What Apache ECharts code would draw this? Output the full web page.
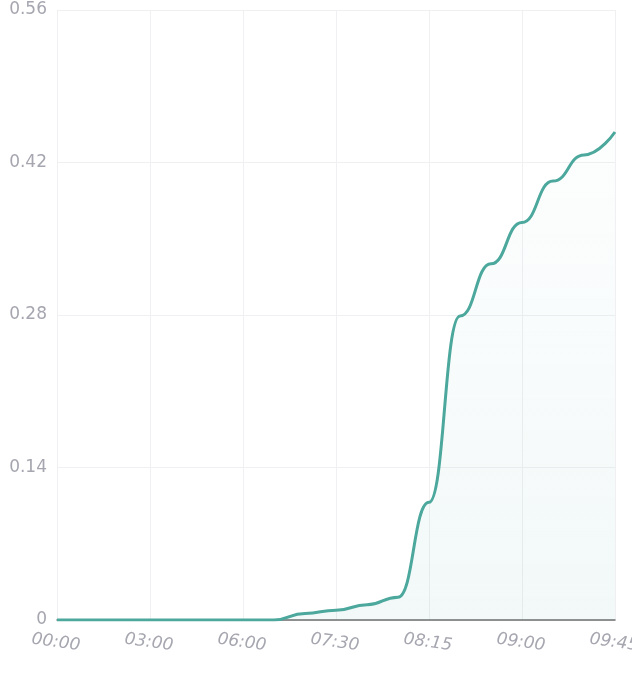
<!DOCTYPE html>
<html>
<head>
<meta charset="utf-8">
<script src="https://cdn.jsdelivr.net/npm/echarts@6/dist/echarts.min.js"></script>
<style>html,body{margin:0;padding:0;background:#fff;}#c{width:632px;height:680px;}</style>
</head>
<body>
<div id="c"></div>
<script>
var categories = ['00:00','01:00','02:00','03:00','04:00','05:00','06:00','06:30','07:00','07:30','07:45','08:00','08:15','08:30','08:45','09:00','09:15','09:30','09:45'];
var values = [0,0,0,0,0,0,0,0,0.006,0.009,0.014,0.021,0.108,0.279,0.327,0.365,0.403,0.427,0.448];
var yTicks = {min:0, max:0.56, interval:0.14};

var chart = echarts.init(document.getElementById('c'), null, {renderer:'canvas'});
chart.setOption({
  animation:false,
  grid:{left:57,right:17,top:10,bottom:60,containLabel:false,outerBoundsMode:'none'},
  xAxis:{
    type:'category',
    boundaryGap:false,
    data:categories,
    axisLine:{show:true,lineStyle:{color:'#6e6e6e',width:1.5}},
    axisTick:{show:false},
    axisLabel:{interval:2,rotate:-8,align:'center',verticalAlign:'top',margin:14,color:'#a6a6b0',fontSize:17,fontStyle:'italic',fontFamily:'"DejaVu Sans", sans-serif',hideOverlap:false},
    splitLine:{show:true,interval:2,lineStyle:{color:'#f0f0f2',width:1}}
  },
  yAxis:{
    type:'value',
    min:yTicks.min,max:yTicks.max,interval:yTicks.interval,
    axisLine:{show:false},
    axisTick:{show:false},
    axisLabel:{margin:10,color:'#a6a6b0',fontSize:17,fontFamily:'"DejaVu Sans", sans-serif'},
    splitLine:{show:true,lineStyle:{color:'#f0f0f2',width:1}}
  },
  series:[{
    type:'line',
    data:values,
    smooth:true,
    smoothMonotone:'x',
    showSymbol:false,
    symbol:'none',
    lineStyle:{color:'#4ca89d',width:3},
    itemStyle:{color:'#4ca89d'},
    areaStyle:{color:new echarts.graphic.LinearGradient(0,0,0,1,[
      {offset:0,color:'rgba(76,168,157,0.02)'},
      {offset:1,color:'rgba(76,168,157,0.10)'}
    ])}
  }]
});
</script>
</body>
</html>
